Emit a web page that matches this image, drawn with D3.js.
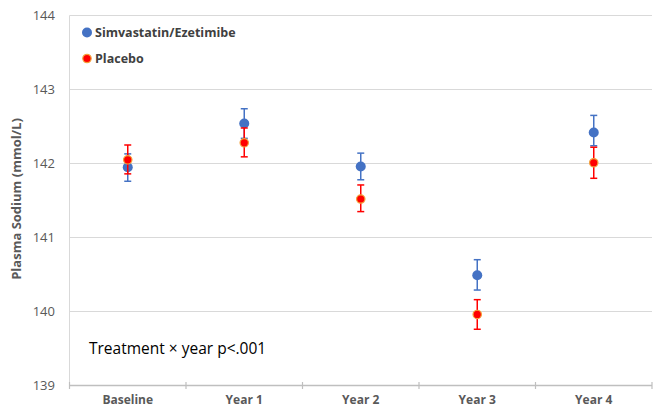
<!DOCTYPE html>
<html><head><meta charset="utf-8">
<script src="https://cdn.jsdelivr.net/npm/d3@7"></script>
<style>body{margin:0;background:#fff}svg{display:block}text{font-family:"Open Sans","Liberation Sans",sans-serif}</style>
</head><body><svg id="c" width="660" height="410"></svg>
<script>
const categories = ["Baseline","Year 1","Year 2","Year 3","Year 4"];
const simValues = [141.95, 142.54, 141.96, 140.49, 142.42];
const simLow    = [141.76, 142.34, 141.78, 140.29, 142.24];
const simHigh   = [142.13, 142.74, 142.14, 140.70, 142.65];
const plaValues = [142.05, 142.28, 141.52, 139.96, 142.01];
const plaLow    = [141.86, 142.09, 141.35, 139.76, 141.80];
const plaHigh   = [142.25, 142.48, 141.71, 140.16, 142.22];
const yTicks = [139, 140, 141, 142, 143, 144];
const seriesNames = ["Simvastatin/Ezetimibe", "Placebo"];
const annotation = "Treatment \u00d7 year p<.001";

const svg = d3.select("#c");
const L = 69.5, R = 652, T = 15.5, B = 385.5;
const x = d3.scaleBand().domain(categories).range([L, R]);
const y = d3.scaleLinear().domain([139, 144]).range([B, T]);

// gridlines
svg.append("g").selectAll("line").data(yTicks.filter(d => d !== 139)).join("line")
  .attr("x1", L).attr("x2", R).attr("y1", d => y(d)).attr("y2", d => y(d))
  .attr("stroke", "#d9d9d9").attr("stroke-width", 1);

// y axis line
svg.append("line").attr("x1", L).attr("x2", L).attr("y1", T).attr("y2", B)
  .attr("stroke", "#d9d9d9").attr("stroke-width", 1);

// y labels
svg.append("g").selectAll("text").data(yTicks).join("text")
  .attr("x", 55).attr("y", d => y(d)).attr("dy", "0.35em").attr("text-anchor", "end")
  .attr("fill", "#595959").attr("font-size", 13).text(d => d);

// x axis
svg.append("line").attr("x1", L).attr("x2", R).attr("y1", B).attr("y2", B)
  .attr("stroke", "#bfbfbf").attr("stroke-width", 1.5);
const bounds = categories.map(c => x(c)).concat([R]);
svg.append("g").selectAll("line").data(bounds).join("line")
  .attr("x1", d => d).attr("x2", d => d).attr("y1", B - 3.5).attr("y2", B + 3.5)
  .attr("stroke", "#bfbfbf").attr("stroke-width", 1.2);
svg.append("g").selectAll("text").data(categories).join("text")
  .attr("x", d => x(d) + x.bandwidth() / 2).attr("y", 404).attr("text-anchor", "middle")
  .attr("fill", "#595959").attr("font-size", 12).attr("font-weight", "bold").text(d => d);

// y title
svg.append("text").attr("transform", "translate(21,199) rotate(-90)")
  .attr("text-anchor", "middle").attr("fill", "#595959").attr("font-size", 13)
  .attr("font-weight", "bold").text("Plasma Sodium (mmol/L)");

function errorBars(vals, lo, hi, color) {
  const g = svg.append("g");
  const cx = i => x(categories[i]) + x.bandwidth() / 2;
  vals.forEach((v, i) => {
    g.append("line").attr("x1", cx(i)).attr("x2", cx(i)).attr("y1", y(lo[i])).attr("y2", y(hi[i]))
      .attr("stroke", color).attr("stroke-width", 1.5);
    [lo[i], hi[i]].forEach(e => g.append("line").attr("x1", cx(i) - 3.5).attr("x2", cx(i) + 3.5)
      .attr("y1", y(e)).attr("y2", y(e)).attr("stroke", color).attr("stroke-width", 1.5));
  });
}
const cxi = (d, i) => x(categories[i]) + x.bandwidth() / 2;
errorBars(simValues, simLow, simHigh, "#4472c4");
svg.append("g").selectAll("circle").data(simValues).join("circle")
  .attr("cx", cxi).attr("cy", d => y(d)).attr("r", 5).attr("fill", "#4472c4");
errorBars(plaValues, plaLow, plaHigh, "#ff0000");
svg.append("g").selectAll("circle").data(plaValues).join("circle")
  .attr("cx", cxi).attr("cy", d => y(d)).attr("r", 4.2).attr("fill", "#ff0000")
  .attr("stroke", "#f4a13a").attr("stroke-width", 1.2);

// legend
const lg = svg.append("g");
lg.append("circle").attr("cx", 87).attr("cy", 32.5).attr("r", 5).attr("fill", "#4472c4");
lg.append("circle").attr("cx", 87).attr("cy", 58.5).attr("r", 4.2).attr("fill", "#ff0000")
  .attr("stroke", "#f4a13a").attr("stroke-width", 1.2);
lg.selectAll("text").data(seriesNames).join("text")
  .attr("x", 95).attr("y", (d, i) => 32.5 + i * 26).attr("dy", "0.35em")
  .attr("fill", "#404040").attr("font-size", 12.5).attr("font-weight", "bold").text(d => d);

// annotation
svg.append("text").attr("x", 89).attr("y", 354).attr("fill", "#000").attr("font-size", 15.5)
  .text(annotation);
</script></body></html>
